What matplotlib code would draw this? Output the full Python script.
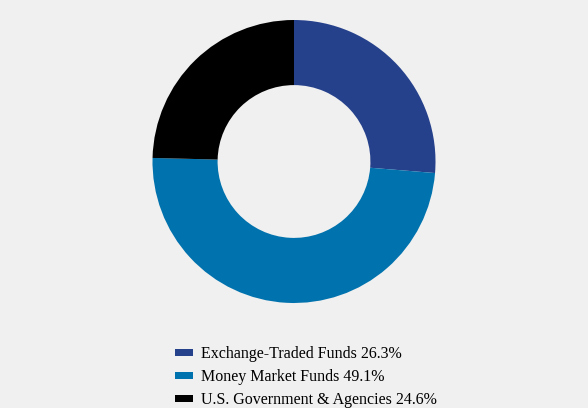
import matplotlib
matplotlib.use("Agg")
import matplotlib.pyplot as plt
from matplotlib.patches import Patch

categories = ["Exchange-Traded Funds", "Money Market Funds", "U.S. Government & Agencies"]
values = [26.3, 49.1, 24.6]
colors = ["#26418c", "#0072ad", "#000000"]
labels = [f"{c} {v}%" for c, v in zip(categories, values)]

W, H = 588, 408
bg = "#f0f0f0"
fig = plt.figure(figsize=(W/100, H/100), dpi=100, facecolor=bg)
cx, cy, r = 294, 161.5, 141.5
ax = fig.add_axes([(cx - r)/W, 1 - (cy + r)/H, 2*r/W, 2*r/H])
ax.set_facecolor(bg)
ax.pie(values, colors=colors, startangle=90, counterclock=False, radius=1,
       wedgeprops=dict(width=0.46, edgecolor="none"))
ax.set_xlim(-1, 1)
ax.set_ylim(-1, 1)
ax.set_aspect("equal")
ax.axis("off")

handles = [Patch(facecolor=c, edgecolor="none") for c in colors]
leg = fig.legend(handles, labels, loc="upper left", bbox_to_anchor=(169/W, 1 - 340/H),
                 frameon=False, prop={"family": "Liberation Serif", "size": 11.5},
                 handlelength=1.1, handleheight=0.3, handletextpad=0.5,
                 labelspacing=0.42, borderaxespad=0)
fig.savefig("out.png", dpi=100, facecolor=bg)
